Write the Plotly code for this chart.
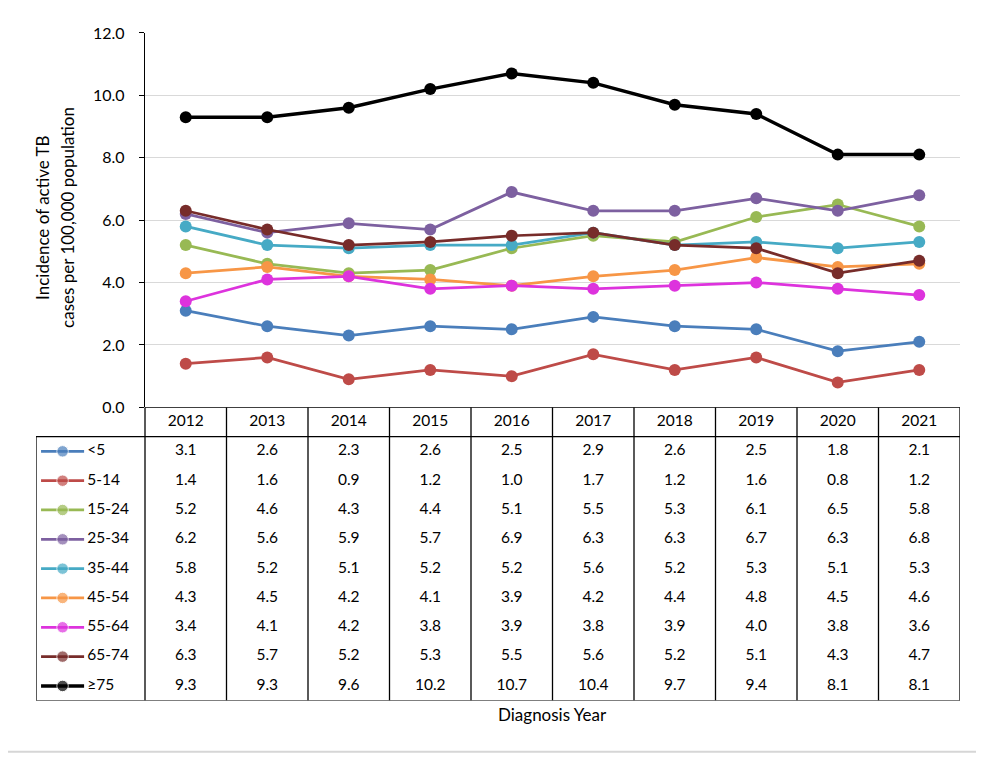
import plotly.graph_objects as go

years = ["2012", "2013", "2014", "2015", "2016", "2017", "2018", "2019", "2020", "2021"]
groups = ["<5", "5-14", "15-24", "25-34", "35-44", "45-54", "55-64", "65-74", "≥75"]
v_lt5 = [3.1, 2.6, 2.3, 2.6, 2.5, 2.9, 2.6, 2.5, 1.8, 2.1]
v_5_14 = [1.4, 1.6, 0.9, 1.2, 1.0, 1.7, 1.2, 1.6, 0.8, 1.2]
v_15_24 = [5.2, 4.6, 4.3, 4.4, 5.1, 5.5, 5.3, 6.1, 6.5, 5.8]
v_25_34 = [6.2, 5.6, 5.9, 5.7, 6.9, 6.3, 6.3, 6.7, 6.3, 6.8]
v_35_44 = [5.8, 5.2, 5.1, 5.2, 5.2, 5.6, 5.2, 5.3, 5.1, 5.3]
v_45_54 = [4.3, 4.5, 4.2, 4.1, 3.9, 4.2, 4.4, 4.8, 4.5, 4.6]
v_55_64 = [3.4, 4.1, 4.2, 3.8, 3.9, 3.8, 3.9, 4.0, 3.8, 3.6]
v_65_74 = [6.3, 5.7, 5.2, 5.3, 5.5, 5.6, 5.2, 5.1, 4.3, 4.7]
v_75p = [9.3, 9.3, 9.6, 10.2, 10.7, 10.4, 9.7, 9.4, 8.1, 8.1]
series = [v_lt5, v_5_14, v_15_24, v_25_34, v_35_44, v_45_54, v_55_64, v_65_74, v_75p]
colors = ["#4a7ebb", "#be4b48", "#98b954", "#7d60a0", "#46aac5",
          "#f79646", "#dd33dd", "#772c2a", "#000000"]
yticks = [0, 2, 4, 6, 8, 10, 12]
ytitle = ["Incidence of active TB", "cases per 100,000 population"]

FONT = "Lato"
W, H = 984, 764
OFF = 8  # page offset of the figure inside the browser window


def fx(px):
    return (px - OFF) / W


def fy(px):
    return 1 - (px - OFF) / H


fig = go.Figure()

n = len(years)
xs = list(range(n))

# main chart lines
for g, vals, c in zip(groups, series, colors):
    lw = 3.5 if c == "#000000" else 2.75
    fig.add_trace(go.Scatter(x=xs, y=vals, mode="lines+markers", name=g,
                             line=dict(color=c, width=lw),
                             marker=dict(color=c, size=12),
                             xaxis="x", yaxis="y", showlegend=False,
                             cliponaxis=False))

# table geometry (category units)
left_ext = 109 / 81.5
xl = -0.5 - left_ext
nrows = len(groups) + 1
TS = 15.5

# header text
fig.add_trace(go.Scatter(x=xs, y=[0] * n, mode="text", text=years,
                         textfont=dict(family=FONT, size=TS, color="black"),
                         xaxis="x2", yaxis="y2", showlegend=False, cliponaxis=False))
# values text
for r, (vals, c) in enumerate(zip(series, colors)):
    fig.add_trace(go.Scatter(x=xs, y=[r + 1] * n, mode="text",
                             text=[f"{v:.1f}" for v in vals],
                             textfont=dict(family=FONT, size=TS, color="black"),
                             xaxis="x2", yaxis="y2", showlegend=False, cliponaxis=False))
    # legend key
    k0, k1 = xl + 0.062, xl + 0.59
    fig.add_trace(go.Scatter(x=[k0, (k0 + k1) / 2, k1], y=[r + 1] * 3,
                             mode="lines+markers",
                             line=dict(color=c, width=3.5 if c == "#000000" else 2.75),
                             marker=dict(color=c, size=[0, 11.5, 0]),
                             xaxis="x2", yaxis="y2", showlegend=False, cliponaxis=False))
    fig.add_trace(go.Scatter(x=[xl + 0.63], y=[r + 1], mode="text", text=[groups[r]],
                             textposition="middle right",
                             textfont=dict(family=FONT, size=TS, color="black"),
                             xaxis="x2", yaxis="y2", showlegend=False, cliponaxis=False))

shapes = []
lc = dict(color="black", width=1.3)
# horizontal lines
shapes.append(dict(type="line", xref="x2", yref="y2", x0=-0.5, x1=n - 0.5, y0=-0.5, y1=-0.5, line=lc))
shapes.append(dict(type="line", xref="x2", yref="y2", x0=xl, x1=n - 0.5, y0=0.5, y1=0.5, line=lc))
shapes.append(dict(type="line", xref="x2", yref="y2", x0=xl, x1=n - 0.5, y0=nrows - 0.5, y1=nrows - 0.5, line=lc))
# vertical lines
shapes.append(dict(type="line", xref="x2", yref="y2", x0=xl, x1=xl, y0=0.5, y1=nrows - 0.5, line=lc))
for k in range(n + 1):
    shapes.append(dict(type="line", xref="x2", yref="y2", x0=k - 0.5, x1=k - 0.5,
                       y0=-0.5, y1=nrows - 0.5, line=lc))
# outer frame (bottom edge is the visible one)
frame = dict(color="#d6d6d6", width=2)
shapes.append(dict(type="line", xref="paper", yref="paper", x0=0, x1=1,
                   y0=fy(760.5), y1=fy(760.5), line=frame))

annotations = [
    dict(text=ytitle[0], textangle=-90, xref="paper", yref="paper", x=fx(43), y=fy(213),
         showarrow=False, font=dict(family=FONT, size=17), xanchor="center", yanchor="middle"),
    dict(text=ytitle[1], textangle=-90, xref="paper", yref="paper", x=fx(68), y=fy(213),
         showarrow=False, font=dict(family=FONT, size=17), xanchor="center", yanchor="middle"),
    dict(text="Diagnosis Year", xref="paper", yref="paper", x=fx(552), y=fy(722),
         showarrow=False, font=dict(family=FONT, size=17), xanchor="center", yanchor="middle"),
]

fig.update_layout(
    width=W, height=H, margin=dict(l=0, r=0, t=0, b=0),
    paper_bgcolor="white", plot_bgcolor="rgba(0,0,0,0)",
    font=dict(family=FONT, size=16, color="black"),
    shapes=shapes, annotations=annotations,
    xaxis=dict(domain=[fx(145), fx(960)], range=[-0.5, n - 0.5], showticklabels=False,
               showgrid=False, zeroline=False, showline=False, ticks=""),
    yaxis=dict(domain=[fy(407.3), fy(23.3)], range=[0, 12], tickvals=yticks,
               ticktext=[f"{t:.1f}" for t in yticks], showgrid=True, gridcolor="#d9d9d9",
               gridwidth=1, zeroline=False, showline=True, linecolor="black", linewidth=1.3,
               ticks="outside", ticklen=5, tickcolor="black", ticklabelstandoff=11,
               tickfont=dict(family=FONT, size=16)),
    xaxis2=dict(domain=[fx(36), fx(960)], range=[xl, n - 0.5], visible=False, anchor="y2"),
    yaxis2=dict(domain=[fy(708), fy(407.3)], range=[nrows - 0.5, -0.5],
                visible=False, anchor="x2"),
)

fig.write_html("out.html")
